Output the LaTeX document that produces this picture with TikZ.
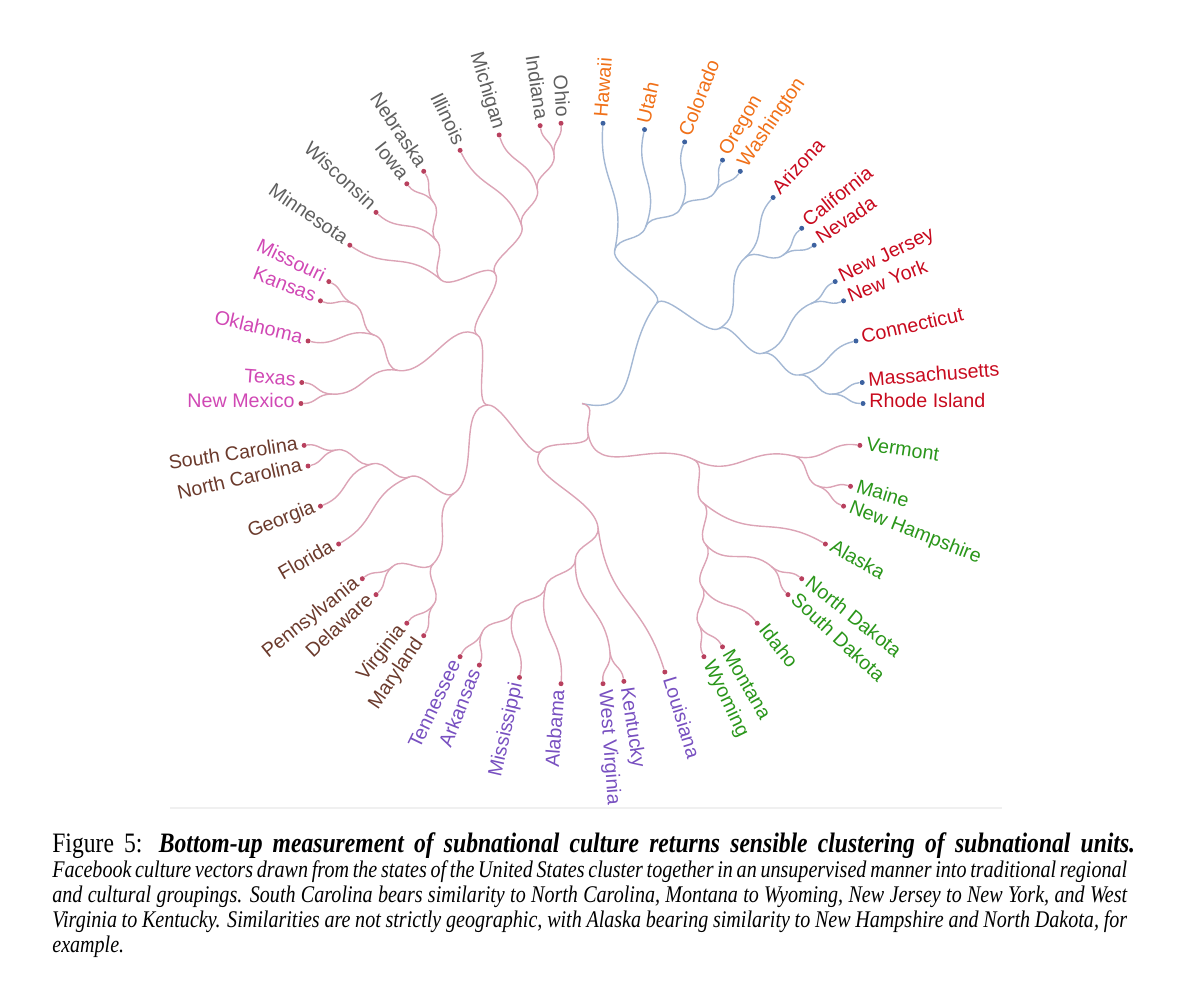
\documentclass[tikz,border=0pt]{standalone}
\usepackage{fontspec}
\setmainfont{Liberation Serif}
\newfontfamily\lblfont{Liberation Sans}
\newfontfamily\capfont[FakeStretch=0.84]{Liberation Serif}

\definecolor{linkblue}{HTML}{A4B8D4}
\definecolor{linkpink}{HTML}{DCA4B6}
\definecolor{dotblue}{HTML}{3D62A0}
\definecolor{dotpink}{HTML}{B8405E}
\definecolor{pacorange}{HTML}{F07018}
\definecolor{nered}{HTML}{C80A1E}
\definecolor{ngreen}{HTML}{2A961A}
\definecolor{spurple}{HTML}{7850C0}
\definecolor{sebrown}{HTML}{6B3A2C}
\definecolor{scmagenta}{HTML}{D048B4}
\definecolor{mwgray}{HTML}{5F5F5F}

% one slot of the circle, one level of the tree, leaf radius (px)
\def\slotang{4.285714}
\def\lvl{31.2222}
\def\rad{281}

\tikzset{
  blueline/.style={draw=linkblue, line width=0.8pt},
  pinkline/.style={draw=linkpink, line width=0.8pt},
  curline/.style={pinkline},
  bdot/.style={circle, fill=dotblue, inner sep=0pt, minimum size=0.1cm},
  pdot/.style={circle, fill=dotpink, inner sep=0pt, minimum size=0.1cm},
  lbl/.style={font=\lblfont\fontsize{11.2}{12}\selectfont, inner sep=0pt},
  capA/.style={font=\capfont\fontsize{16}{18}\selectfont, inner sep=0pt},
  capB/.style={font=\capfont\itshape\fontsize{13.6}{16}\selectfont, inner sep=0pt}
}

% leaf: name, slot, dot style, text colour, label
\newcommand{\stleaf}[5]{%
  \expandafter\xdef\csname pos-#1\endcsname{#2}%
  \expandafter\xdef\csname ht-#1\endcsname{0}%
  \pgfmathsetmacro\leafang{90-#2*\slotang}%
  \node[#3] (#1) at ({\leafang}:{\rad}) {};
  \ifnum#2<42
    \node[lbl, text=#4, anchor=mid west, rotate=\leafang] (#1-t) at ({\leafang}:{\rad+6}) {#5};
  \else
    \node[lbl, text=#4, anchor=mid east, rotate=\leafang+180] (#1-t) at ({\leafang}:{\rad+6}) {#5};
  \fi}

% join point: name, child, child
\newcommand{\stplace}[3]{%
  \pgfmathsetmacro\tpos{(\csname pos-#2\endcsname+\csname pos-#3\endcsname)/2}%
  \pgfmathtruncatemacro\tht{max(\csname ht-#2\endcsname,\csname ht-#3\endcsname)+1}%
  \expandafter\xdef\csname pos-#1\endcsname{\tpos}%
  \expandafter\xdef\csname ht-#1\endcsname{\tht}%
  \coordinate (#1) at ({90-\tpos*\slotang}:{(9-\tht)*\lvl});}

% radial link: style, child, parent
\newcommand{\stlink}[3]{%
  \pgfmathsetmacro\midr{(18-\csname ht-#2\endcsname-\csname ht-#3\endcsname)/2*\lvl}%
  \draw[#1] (#2) .. controls ({90-\csname pos-#2\endcsname*\slotang}:{\midr})
    and ({90-\csname pos-#3\endcsname*\slotang}:{\midr}) .. (#3);}

\newcommand{\stjoin}[3]{\stplace{#1}{#2}{#3}\stlink{curline}{#2}{#1}\stlink{curline}{#3}{#1}}

\begin{document}
\begin{tikzpicture}[x=0.02cm, y=-0.02cm]
\useasboundingbox (0,0) rectangle (1200,990);
\draw[black!6, line width=1pt] (170,808) -- (1002,808);

\begin{scope}[shift={(582,403.5)}, y=0.02cm]
% leaves
\stleaf{hawaii}{1}{bdot}{pacorange}{Hawaii}
\stleaf{utah}{3}{bdot}{pacorange}{Utah}
\stleaf{colorado}{5}{bdot}{pacorange}{Colorado}
\stleaf{oregon}{7}{bdot}{pacorange}{Oregon}
\stleaf{washington}{8}{bdot}{pacorange}{Washington}
\stleaf{arizona}{10}{bdot}{nered}{Arizona}
\stleaf{california}{12}{bdot}{nered}{California}
\stleaf{nevada}{13}{bdot}{nered}{Nevada}
\stleaf{newjersey}{15}{bdot}{nered}{New Jersey}
\stleaf{newyork}{16}{bdot}{nered}{New York}
\stleaf{connecticut}{18}{bdot}{nered}{Connecticut}
\stleaf{massachusetts}{20}{bdot}{nered}{Massachusetts}
\stleaf{rhodeisland}{21}{bdot}{nered}{Rhode Island}
\stleaf{vermont}{23}{pdot}{ngreen}{Vermont}
\stleaf{maine}{25}{pdot}{ngreen}{Maine}
\stleaf{newhampshire}{26}{pdot}{ngreen}{New Hampshire}
\stleaf{alaska}{28}{pdot}{ngreen}{Alaska}
\stleaf{northdakota}{30}{pdot}{ngreen}{North Dakota}
\stleaf{southdakota}{31}{pdot}{ngreen}{South Dakota}
\stleaf{idaho}{33}{pdot}{ngreen}{Idaho}
\stleaf{montana}{35}{pdot}{ngreen}{Montana}
\stleaf{wyoming}{36}{pdot}{ngreen}{Wyoming}
\stleaf{louisiana}{38}{pdot}{spurple}{Louisiana}
\stleaf{kentucky}{40}{pdot}{spurple}{Kentucky}
\stleaf{westvirginia}{41}{pdot}{spurple}{West Virginia}
\stleaf{alabama}{43}{pdot}{spurple}{Alabama}
\stleaf{mississippi}{45}{pdot}{spurple}{Mississippi}
\stleaf{arkansas}{47}{pdot}{spurple}{Arkansas}
\stleaf{tennessee}{48}{pdot}{spurple}{Tennessee}
\stleaf{maryland}{50}{pdot}{sebrown}{Maryland}
\stleaf{virginia}{51}{pdot}{sebrown}{Virginia}
\stleaf{delaware}{53}{pdot}{sebrown}{Delaware}
\stleaf{pennsylvania}{54}{pdot}{sebrown}{Pennsylvania}
\stleaf{florida}{56}{pdot}{sebrown}{Florida}
\stleaf{georgia}{58}{pdot}{sebrown}{Georgia}
\stleaf{northcarolina}{60}{pdot}{sebrown}{North Carolina}
\stleaf{southcarolina}{61}{pdot}{sebrown}{South Carolina}
\stleaf{newmexico}{63}{pdot}{scmagenta}{New Mexico}
\stleaf{texas}{64}{pdot}{scmagenta}{Texas}
\stleaf{oklahoma}{66}{pdot}{scmagenta}{Oklahoma}
\stleaf{kansas}{68}{pdot}{scmagenta}{Kansas}
\stleaf{missouri}{69}{pdot}{scmagenta}{Missouri}
\stleaf{minnesota}{71}{pdot}{mwgray}{Minnesota}
\stleaf{wisconsin}{73}{pdot}{mwgray}{Wisconsin}
\stleaf{iowa}{75}{pdot}{mwgray}{Iowa}
\stleaf{nebraska}{76}{pdot}{mwgray}{Nebraska}
\stleaf{illinois}{78}{pdot}{mwgray}{Illinois}
\stleaf{michigan}{80}{pdot}{mwgray}{Michigan}
\stleaf{indiana}{82}{pdot}{mwgray}{Indiana}
\stleaf{ohio}{83}{pdot}{mwgray}{Ohio}

% blue half
\tikzset{curline/.style={blueline}}
\stjoin{orwa}{oregon}{washington}
\stjoin{cowa}{colorado}{orwa}
\stjoin{utwa}{utah}{cowa}
\stjoin{pacific}{hawaii}{utwa}
\stjoin{canv}{california}{nevada}
\stjoin{southwest}{arizona}{canv}
\stjoin{njny}{newjersey}{newyork}
\stjoin{mari}{massachusetts}{rhodeisland}
\stjoin{ctri}{connecticut}{mari}
\stjoin{northeast}{njny}{ctri}
\stjoin{swne}{southwest}{northeast}
\stjoin{bluetop}{pacific}{swne}

% pink half
\tikzset{curline/.style={pinkline}}
\stjoin{menh}{maine}{newhampshire}
\stjoin{vtnh}{vermont}{menh}
\stjoin{mtwy}{montana}{wyoming}
\stjoin{idwy}{idaho}{mtwy}
\stjoin{ndsd}{northdakota}{southdakota}
\stjoin{plains}{ndsd}{idwy}
\stjoin{akwy}{alaska}{plains}
\stjoin{greenside}{vtnh}{akwy}
\stjoin{artn}{arkansas}{tennessee}
\stjoin{mstn}{mississippi}{artn}
\stjoin{altn}{alabama}{mstn}
\stjoin{kywv}{kentucky}{westvirginia}
\stjoin{deepsouth}{altn}{kywv}
\stjoin{south}{louisiana}{deepsouth}
\stjoin{ncsc}{northcarolina}{southcarolina}
\stjoin{gasc}{georgia}{ncsc}
\stjoin{flsc}{florida}{gasc}
\stjoin{depa}{delaware}{pennsylvania}
\stjoin{mdva}{maryland}{virginia}
\stjoin{midatl}{mdva}{depa}
\stjoin{southeast}{midatl}{flsc}
\stjoin{nmtx}{newmexico}{texas}
\stjoin{ksmo}{kansas}{missouri}
\stjoin{okmo}{oklahoma}{ksmo}
\stjoin{southcentral}{nmtx}{okmo}
\stjoin{iane}{iowa}{nebraska}
\stjoin{wine}{wisconsin}{iane}
\stjoin{mnne}{minnesota}{wine}
\stjoin{inoh}{indiana}{ohio}
\stjoin{mioh}{michigan}{inoh}
\stjoin{iloh}{illinois}{mioh}
\stjoin{midwest}{mnne}{iloh}
\stjoin{central}{southcentral}{midwest}
\stjoin{westside}{southeast}{central}
\stjoin{pinkmid}{south}{westside}
\stjoin{pinktop}{pinkmid}{greenside}

% root
\stplace{root}{bluetop}{pinktop}
\stlink{blueline}{bluetop}{root}
\stlink{pinkline}{pinktop}{root}
\end{scope}

% caption
\node[capA, anchor=base west] (capline1) at (52,852) {\makebox[21.66cm][s]{Figure 5: \textbf{\textit{Bottom-up measurement of subnational culture returns sensible clustering of subnational units.}}}};
\node[capB, anchor=base west] (capline2) at (52,877) {\makebox[21.5cm][s]{Facebook culture vectors drawn from the states of the United States cluster together in an unsupervised manner into traditional regional}};
\node[capB, anchor=base west] (capline3) at (52,902) {\makebox[21.5cm][s]{and cultural groupings. South Carolina bears similarity to North Carolina, Montana to Wyoming, New Jersey to New York, and West}};
\node[capB, anchor=base west] (capline4) at (52,927) {\makebox[21.5cm][s]{Virginia to Kentucky. Similarities are not strictly geographic, with Alaska bearing similarity to New Hampshire and North Dakota, for}};
\node[capB, anchor=base west] (capline5) at (52,952) {example.};
\end{tikzpicture}
\end{document}
